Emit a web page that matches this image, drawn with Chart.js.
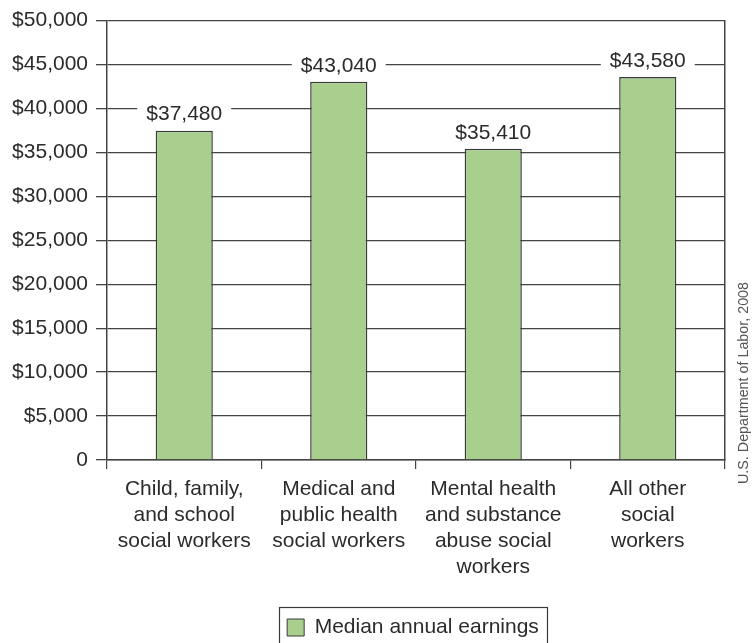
<!DOCTYPE html>
<html>
<head>
<meta charset="utf-8">
<script src="https://cdn.jsdelivr.net/npm/chart.js@4/dist/chart.umd.min.js"></script>
<style>
  html, body { margin: 0; padding: 0; background: #ffffff; }
  #wrap { width: 752px; height: 643px; position: relative; }
</style>
</head>
<body>
<div id="wrap"><canvas id="chart" width="752" height="643"></canvas></div>
<script>
// Occupation groups (multi-line axis labels)
const categories = [
  ['Child, family,', 'and school', 'social workers'],
  ['Medical and', 'public health', 'social workers'],
  ['Mental health', 'and substance', 'abuse social', 'workers'],
  ['All other', 'social', 'workers']
];
// Median annual earnings, US dollars
const earnings = [37480, 43040, 35410, 43580];
const seriesName = 'Median annual earnings';
const yTicks = [0, 5000, 10000, 15000, 20000, 25000, 30000, 35000, 40000, 45000, 50000];
const sourceNote = 'U.S. Department of Labor, 2008';

const FONT = "'Liberation Sans', Arial, Helvetica, sans-serif";
const TEXT = '#2b2b2b';
const GRID = '#444444';
const BAR_FILL = '#a9cf8f';
const BAR_EDGE = '#3a3a3a';

const money = v => v === 0 ? '0' : '$' + v.toLocaleString('en-US');

// Dollar value above each bar on a white backing that interrupts the gridlines
const valueLabels = {
  id: 'valueLabels',
  afterDatasetsDraw(chart) {
    const ctx = chart.ctx;
    const meta = chart.getDatasetMeta(0);
    ctx.save();
    ctx.font = '21px ' + FONT;
    ctx.textAlign = 'center';
    ctx.textBaseline = 'middle';
    meta.data.forEach((bar, i) => {
      const txt = money(chart.data.datasets[0].data[i]);
      const w = ctx.measureText(txt).width;
      const cy = bar.y - 17;
      ctx.fillStyle = '#ffffff';
      ctx.fillRect(bar.x - w / 2 - 9, cy - 12, w + 18, 24);
      ctx.fillStyle = TEXT;
      ctx.fillText(txt, bar.x, cy + 1);
    });
    ctx.restore();
  }
};

// Legend sits centred under the plot area rather than the whole canvas
const legendShift = {
  id: 'legendShift',
  afterLayout(chart) {
    const lg = chart.legend;
    if (!lg) return;
    const ca = chart.chartArea;
    const want = (ca.left + ca.right) / 2 - (lg.left + lg.right) / 2 - 3;
    lg.left += want;
    lg.right += want;
  }
};

// Frame round the legend, and the vertical source note at the right edge
const extras = {
  id: 'extras',
  afterDraw(chart) {
    const ctx = chart.ctx;
    const lg = chart.legend;
    ctx.save();
    if (lg && lg.legendHitBoxes && lg.legendHitBoxes.length) {
      const hb = lg.legendHitBoxes[0];
      ctx.strokeStyle = '#3a3a3a';
      ctx.lineWidth = 1.2;
      ctx.strokeRect(Math.round(hb.left - 8) + 0.5, 607.5, Math.round(hb.width + 16), 60);
    }
    ctx.font = "15px 'Liberation Sans Narrow', 'Liberation Sans', Arial, sans-serif";
    const w = ctx.measureText(sourceNote).width;
    ctx.translate(748, 484);
    ctx.rotate(-Math.PI / 2);
    ctx.scale(202 / w, 1);
    ctx.fillStyle = '#555555';
    ctx.textBaseline = 'alphabetic';
    ctx.textAlign = 'left';
    ctx.fillText(sourceNote, 0, 0);
    ctx.restore();
  }
};

new Chart(document.getElementById('chart'), {
  type: 'bar',
  data: {
    labels: categories,
    datasets: [{
      label: seriesName,
      data: earnings,
      backgroundColor: BAR_FILL,
      borderColor: BAR_EDGE,
      borderWidth: 1.5,
      barPercentage: 0.37,
      categoryPercentage: 1.0
    }]
  },
  options: {
    responsive: false,
    animation: false,
    devicePixelRatio: 1,
    layout: { padding: { top: 19, right: 27, left: 0, bottom: -5 } },
    plugins: {
      tooltip: { enabled: false },
      legend: {
        position: 'bottom',
        align: 'center',
        labels: {
          font: { family: FONT, size: 21 },
          color: TEXT,
          boxWidth: 17,
          boxHeight: 17,
          padding: 10,
          generateLabels(chart) {
            const ds = chart.data.datasets[0];
            return [{
              text: ds.label,
              fillStyle: ds.backgroundColor,
              strokeStyle: BAR_EDGE,
              lineWidth: 1,
              fontColor: TEXT,
              datasetIndex: 0
            }];
          }
        }
      }
    },
    scales: {
      x: {
        offset: true,
        grid: {
          offset: true,
          drawOnChartArea: false,
          drawTicks: true,
          tickLength: 9,
          color: GRID,
          lineWidth: 1.2
        },
        border: { display: true, color: GRID, width: 1.5 },
        ticks: {
          font: { family: FONT, size: 21, lineHeight: 1.23 },
          color: TEXT,
          padding: 7.5,
          maxRotation: 0,
          autoSkip: false
        },
        afterFit(scale) { scale.height = 147; }
      },
      y: {
        min: 0,
        max: 50000,
        afterBuildTicks(scale) { scale.ticks = yTicks.map(v => ({ value: v })); },
        grid: {
          color: GRID,
          lineWidth: 1.3,
          drawTicks: true,
          tickLength: 11
        },
        border: { display: true, color: GRID, width: 1.5 },
        ticks: {
          font: { family: FONT, size: 21 },
          color: TEXT,
          padding: 8,
          callback: v => money(v)
        },
        afterFit(scale) { scale.width = 107; }
      },
      yRight: {
        position: 'right',
        min: 0,
        max: 50000,
        grid: { display: false, drawTicks: false },
        border: { display: true, color: GRID, width: 1.5 },
        ticks: { display: false },
        afterFit(scale) { scale.width = 0; }
      }
    }
  },
  plugins: [valueLabels, legendShift, extras]
});
</script>
</body>
</html>
